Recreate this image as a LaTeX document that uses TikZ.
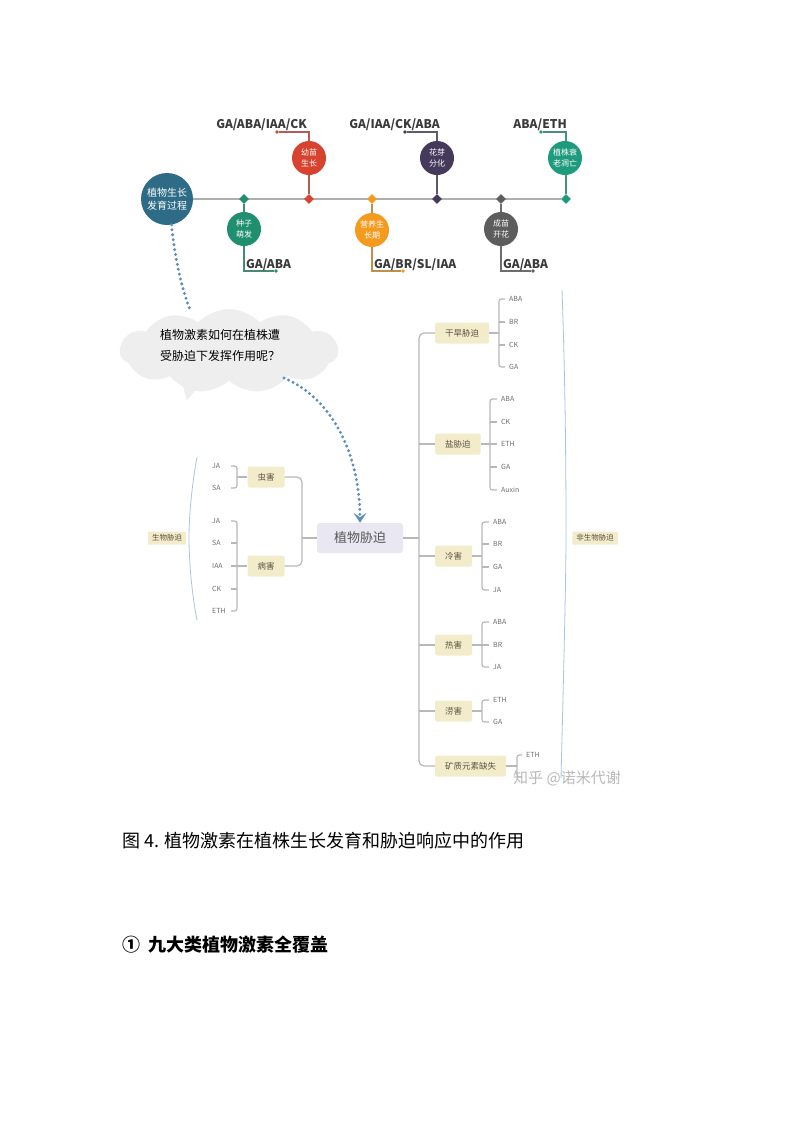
\documentclass[tikz,border=0pt]{standalone}
\usepackage{fontspec}
\setmainfont{Noto Sans CJK SC}
\usetikzlibrary{shapes.geometric,shapes.symbols,arrows.meta,backgrounds}
\newcommand\myfs[1]{\fontsize{#1}{#1}\selectfont}
\definecolor{cBig}{HTML}{2D6B86}
\definecolor{cRed}{HTML}{D8432F}
\definecolor{cPur}{HTML}{45395C}
\definecolor{cTeal}{HTML}{1E9B7D}
\definecolor{cGrn}{HTML}{1F8F6F}
\definecolor{cOra}{HTML}{F49B1F}
\definecolor{cGry}{HTML}{5D5D5D}
\definecolor{tline}{HTML}{AEAEAE}
\definecolor{treeline}{HTML}{B8B8B8}
\definecolor{beige}{HTML}{F3ECCB}
\definecolor{beigetext}{HTML}{5E5242}
\definecolor{leaftext}{HTML}{6E6E6E}
\definecolor{stressfill}{HTML}{E9E7F1}
\definecolor{dotblue}{HTML}{5D8FBE}
\definecolor{cloudgray}{HTML}{EEEEEE}
\definecolor{bracketblue}{HTML}{A9C6DF}
\definecolor{lbl}{HTML}{3A3A3A}
\tikzset{
  stage/.style={circle, minimum size=34pt, inner sep=0pt, text=white, font=\fontsize{8}{11}\selectfont, align=center},
  bigstage/.style={circle, minimum size=52pt, inner sep=0pt, fill=cBig, text=white, font=\fontsize{10}{13.5}\selectfont, align=center},
  dmd/.style={diamond, minimum size=10pt, inner sep=0pt},
  enddot/.style={circle, minimum size=3.6pt, inner sep=0pt},
  toplbl/.style={anchor=base east, font=\bfseries\myfs{12}, text=lbl, inner sep=0pt},
  botlbl/.style={anchor=base west, font=\bfseries\myfs{12}, text=lbl, inner sep=0pt},
  conn/.style={line width=1.2pt},
  tl/.style={tline, line width=1.4pt},
  tree/.style={treeline, line width=1.2pt},
  box/.style={fill=beige, text=beigetext, font=\myfs{8.5}, inner xsep=10pt, inner ysep=0pt, minimum height=21pt, rounded corners=2pt},
  sidebox/.style={fill=beige, text=beigetext, font=\myfs{7.5}, inner xsep=4pt, inner ysep=0pt, minimum height=13pt, rounded corners=1pt},
  leafL/.style={anchor=west, font=\myfs{7}, text=leaftext, inner sep=0pt},
  leafR/.style={anchor=west, font=\myfs{7}, text=leaftext, inner sep=0pt},
  dotline/.style={dotblue, line width=3.3pt, line cap=round, dash pattern=on 0pt off 5pt},
  brace/.style={bracketblue, line width=0.8pt},
}
\begin{document}
\begin{tikzpicture}[x=1pt,y=-1pt]
\path[use as bounding box] (0,0) rectangle (793,1122);
\begin{scope}[on background layer]
\fill[white] (0,0) rectangle (793,1122);
\end{scope}

% ---------- timeline ----------
\node[bigstage] (bigc) at (167,199) {植物生长\\发育过程};
\node[dmd, fill=cGrn]  (d1) at (244,199) {};
\node[dmd, fill=cRed]  (d2) at (309,199) {};
\node[dmd, fill=cOra]  (d3) at (372,199) {};
\node[dmd, fill=cPur]  (d4) at (437,199) {};
\node[dmd, fill=cGry]  (d5) at (501,199) {};
\node[dmd, fill=cTeal] (d6) at (566,199) {};
\node[enddot, fill=cRed]  (e2) at (277,132) {};
\node[enddot, fill=cPur]  (e4) at (405,132) {};
\node[enddot, fill=cTeal] (e6) at (541,132) {};
\node[enddot, fill=cGrn]  (e1) at (276,271) {};
\node[enddot, fill=cOra]  (e3) at (403,271) {};
\node[enddot, fill=cGry]  (e5) at (533,271) {};
\begin{scope}[on background layer]
\draw[tl] (bigc) -- (d6);
\draw[conn, cRed!55!gray]  (d2) |- (e2);
\draw[conn, cPur!55!gray]  (d4) |- (e4);
\draw[conn, cTeal!55!gray] (d6) |- (e6);
\draw[conn, cGrn!55!gray]  (d1) |- (e1);
\draw[conn, cOra!55!gray]  (d3) |- (e3);
\draw[conn, cGry!55!gray]  (d5) |- (e5);
\end{scope}
\node[stage, fill=cRed]  (c2) at (309,158) {幼苗\\生长};
\node[stage, fill=cPur]  (c4) at (437,158) {花芽\\分化};
\node[stage, fill=cTeal] (c6) at (565,158) {植株衰\\老凋亡};
\node[stage, fill=cGrn]  (c1) at (244,229) {种子\\萌发};
\node[stage, fill=cOra]  (c3) at (372,230) {营养生\\长期};
\node[stage, fill=cGry]  (c5) at (501,229) {成苗\\开花};
\node[toplbl] (l2) at (307,128.5) {GA/ABA/IAA/CK};
\node[toplbl] (l4) at (440,128.5) {GA/IAA/CK/ABA};
\node[toplbl] (l6) at (567,128.5) {ABA/ETH};
\node[botlbl] (l1) at (246,268) {GA/ABA};
\node[botlbl] (l3) at (374,268) {GA/BR/SL/IAA};
\node[botlbl] (l5) at (503,268) {GA/ABA};

% ---------- cloud ----------
\node[cloud, cloud puffs=11, cloud puff arc=95, cloud ignores aspect, fill=cloudgray, minimum width=218pt, minimum height=84pt, inner sep=0pt] (cloud) at (229,351) {};
\fill[cloudgray, rounded corners=2pt] (181,378) -- (187,401) -- (203,380) -- cycle;
\node[anchor=base west, font=\myfs{12}, inner sep=0pt] (q1) at (160,339.5) {植物激素如何在植株遭};
\node[anchor=base west, font=\myfs{12}, inner sep=0pt] (q2) at (160,360.5) {受胁迫下发挥作用呢？};
\coordinate (cltop) at (191,312);
\coordinate (clr) at (284,378);

% ---------- stress ----------
\node[fill=stressfill, text=black!65, font=\myfs{13}, minimum width=86pt, minimum height=30pt, inner sep=0pt, rounded corners=3pt] (stress) at (360,538) {植物胁迫};

\draw[dotline] (bigc.-80) .. controls (175,260) and (182,290) .. (cltop);
\draw[dotline, -{Stealth[length=10pt,width=13pt,inset=4.5pt]}] (clr) .. controls (336,400) and (360,460) .. (stress.north);

% ---------- left tree ----------
\node[box, inner xsep=10pt] (chong) at (266,477) {虫害};
\node[box, inner xsep=10pt] (bing) at (266,566) {病害};
\node[leafL] (ja1) at (212,466) {JA};
\node[leafL] (sa1) at (212,488) {SA};
\node[leafL] (ja2) at (212,521) {JA};
\node[leafL] (sa2) at (212,543) {SA};
\node[leafL] (iaa2) at (212,566) {IAA};
\node[leafL] (ck2) at (212,589) {CK};
\node[leafL] (eth2) at (212,611) {ETH};
\coordinate (tkL) at (231,0);
\coordinate (brL1) at (237,477);
\coordinate (brL2) at (237,566);
\coordinate (jL) at (302,538);
\draw[tree, rounded corners=2.5pt] (ja1 -| tkL) -| (brL1) |- (sa1 -| tkL);
\draw[tree] (chong) -- (brL1);
\draw[tree, rounded corners=2.5pt] (ja2 -| tkL) -| (brL2) |- (eth2 -| tkL);
\draw[tree] (sa2 -| tkL) -- (sa2 -| brL2);
\draw[tree] (ck2 -| tkL) -- (ck2 -| brL2);
\draw[tree] (iaa2 -| tkL) -- (brL2);
\draw[tree] (bing) -- (brL2);
\draw[tree] (stress) -- (jL);
\draw[tree, rounded corners=5pt] (chong.east) -| (jL) |- (bing.east);
\draw[brace] (197,457) .. controls (191,490) and (189,520) .. (189,538) .. controls (189,556) and (191,590) .. (197,620);
\node[sidebox] (bio) at (167,538) {生物胁迫};

% ---------- right tree ----------
\node[box, anchor=west] (gh) at (435,333) {干旱胁迫};
\node[box, anchor=west] (yan) at (435,444) {盐胁迫};
\node[box, anchor=west] (leng) at (435,556) {冷害};
\node[box, anchor=west] (re) at (435,645) {热害};
\node[box, anchor=west] (lao) at (435,711) {涝害};
\node[box, anchor=west] (kz) at (435,766) {矿质元素缺失};
\coordinate (trunk) at (419,538);
\draw[tree] (stress) -- (trunk);
\draw[tree, rounded corners=5pt] (gh.west) -| (trunk) |- (kz.west);
\foreach \b in {yan,leng,re,lao} \draw[tree] (\b.west) -- (\b.west -| trunk);

% drought
\foreach \t/\y [count=\i] in {ABA/299,BR/322,CK/345,GA/367} \node[leafR] (gh\i) at (509,\y) {\t};
\coordinate (ghb) at (499,333);
\draw[tree, rounded corners=2.5pt] ([xshift=-4pt]gh1.west) -| (ghb) |- ([xshift=-4pt]gh4.west);
\draw[tree] (gh) -- (ghb);
\foreach \i in {2,3} \draw[tree] ([xshift=-4pt]gh\i.west) -- (gh\i.west -| ghb);
% salt
\foreach \t/\y [count=\i] in {ABA/399,CK/422,ETH/444,GA/467,Auxin/490} \node[leafR] (yn\i) at (501,\y) {\t};
\coordinate (ynb) at (490,444);
\draw[tree, rounded corners=2.5pt] ([xshift=-4pt]yn1.west) -| (ynb) |- ([xshift=-4pt]yn5.west);
\draw[tree] (yan) -- (ynb);
\foreach \i in {2,3,4} \draw[tree] ([xshift=-4pt]yn\i.west) -- (yn\i.west -| ynb);
% cold
\foreach \t/\y [count=\i] in {ABA/522,BR/544,GA/567,JA/590} \node[leafR] (lg\i) at (493,\y) {\t};
\coordinate (lgb) at (482,556);
\draw[tree, rounded corners=2.5pt] ([xshift=-4pt]lg1.west) -| (lgb) |- ([xshift=-4pt]lg4.west);
\draw[tree] (leng) -- (lgb);
\foreach \i in {2,3} \draw[tree] ([xshift=-4pt]lg\i.west) -- (lg\i.west -| lgb);
% heat
\foreach \t/\y [count=\i] in {ABA/622,BR/645,JA/667} \node[leafR] (rh\i) at (493,\y) {\t};
\coordinate (rhb) at (482,645);
\draw[tree, rounded corners=2.5pt] ([xshift=-4pt]rh1.west) -| (rhb) |- ([xshift=-4pt]rh3.west);
\draw[tree] (re) -- ([xshift=-4pt]rh2.west);
% flood
\foreach \t/\y [count=\i] in {ETH/700,GA/722} \node[leafR] (lo\i) at (493,\y) {\t};
\coordinate (lob) at (482,711);
\draw[tree, rounded corners=2.5pt] ([xshift=-4pt]lo1.west) -| (lob) |- ([xshift=-4pt]lo2.west);
\draw[tree] (lao) -- (lob);
% mineral
\node[leafR] (kz1) at (526,755) {ETH};
\coordinate (kzb) at (517,766);
\coordinate (kzend) at (522,777);
\draw[tree, rounded corners=2.5pt] ([xshift=-4pt]kz1.west) -| (kzb) |- (kzend);
\draw[tree] (kz) -- (kzb);

\draw[brace] (562,290) .. controls (566,400) and (566,500) .. (566,538) .. controls (566,580) and (563,700) .. (561,778);
\node[sidebox] (abio) at (595,538) {非生物胁迫};

\node[font=\myfs{15}, text=gray!55, inner sep=0pt] (wm) at (567,778) {知乎 @诺米代谢};

% ---------- captions ----------
\node[anchor=west, font=\myfs{18}, inner sep=0pt] (cap) at (122,841) {图 4.\hspace{5pt}植物激素在植株生长发育和胁迫响应中的作用};
\node[anchor=west, font=\bfseries\myfs{18}, inner sep=0pt] (head) at (122,945) {①\hspace{8pt}九大类植物激素全覆盖};
\end{tikzpicture}
\end{document}
